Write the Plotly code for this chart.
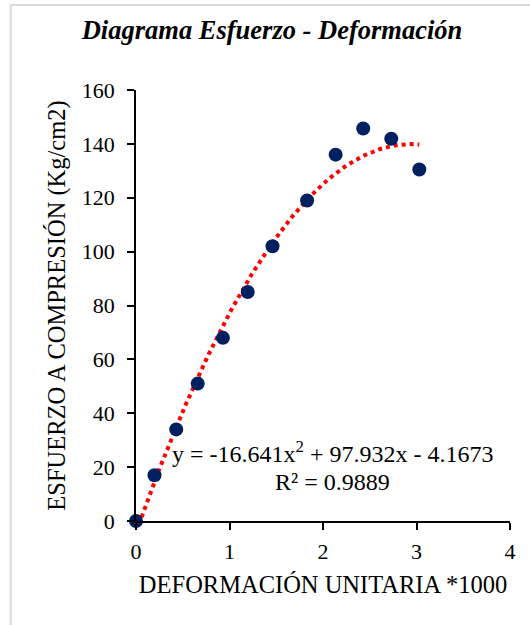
import numpy as np
import plotly.graph_objects as go

# Ensayo de compresión: deformación unitaria (*1000) y esfuerzo (kg/cm2)
deformacion = [0.0, 0.198, 0.43, 0.66, 0.93, 1.195, 1.46, 1.83, 2.135, 2.43, 2.73, 3.03]
esfuerzo = [0, 17, 34, 51, 68, 85, 102, 119, 136, 145.7, 141.9, 130.5]

# Línea de tendencia polinómica de orden 2: a*x^2 + b*x + c
coef_tendencia = [-16.641, 97.932, -4.1673]
r_cuadrado = 0.9889

x_ticks = [0, 1, 2, 3, 4]
y_ticks = [0, 20, 40, 60, 80, 100, 120, 140, 160]

FONT = "Liberation Serif"

a, b, c = coef_tendencia
x_tend = np.linspace(min(deformacion), max(deformacion), 200)
y_tend = a * x_tend**2 + b * x_tend + c

fig = go.Figure()

fig.add_trace(go.Scatter(
    x=x_tend, y=y_tend, mode="lines",
    line=dict(color="#ff0000", width=4, dash="dot"),
    hoverinfo="skip", showlegend=False,
))

fig.add_trace(go.Scatter(
    x=deformacion, y=esfuerzo, mode="markers",
    marker=dict(color="#002060", size=14, line=dict(width=0)),
    showlegend=False, cliponaxis=False,
))

ecuacion = f"y = {a:g}x<sup>2</sup> + {b:g}x - {abs(c):g}"
fig.add_annotation(x=2.1, y=25.5, xref="x", yref="y", text=ecuacion,
                   showarrow=False, font=dict(family=FONT, size=24, color="#000000"))
fig.add_annotation(x=2.1, y=14.5, xref="x", yref="y", text=f"R² = {r_cuadrado}",
                   showarrow=False, font=dict(family=FONT, size=24, color="#000000"))

# Marco del área del gráfico
fig.add_shape(type="rect", xref="paper", yref="paper",
              x0=(10 - 135.5) / 374.5, x1=(540 - 135.5) / 374.5,
              y0=(521 - 640) / 431, y1=(521 - 5) / 431,
              line=dict(color="#d9d9d9", width=2), layer="below")

fig.update_layout(
    width=530, height=625,
    margin=dict(l=135.5, r=20, t=90, b=104),
    paper_bgcolor="white", plot_bgcolor="white",
    font=dict(family=FONT, color="#000000"),
    title=dict(text="<b><i>Diagrama Esfuerzo - Deformación</i></b>",
               x=272 / 530, xanchor="center", y=1 - 30 / 625, yanchor="middle",
               font=dict(family=FONT, size=26.5, color="#000000")),
    xaxis=dict(range=[0, 4], tickvals=x_ticks, showgrid=False, zeroline=False,
               showline=True, linecolor="#000000", linewidth=1.5,
               ticks="outside", ticklen=7, tickwidth=1.5, tickcolor="#000000",
               tickfont=dict(family=FONT, size=22), ticklabelstandoff=3,
               title=dict(text="DEFORMACIÓN UNITARIA *1000",
                          font=dict(family=FONT, size=24.5), standoff=13)),
    yaxis=dict(range=[0, 160], tickvals=y_ticks, showgrid=False, zeroline=False,
               showline=True, linecolor="#000000", linewidth=1.5,
               ticks="outside", ticklen=7, tickwidth=1.5, tickcolor="#000000",
               tickfont=dict(family=FONT, size=22), ticklabelstandoff=8,
               title=dict(text="ESFUERZO A COMPRESIÓN (Kg/cm2)",
                          font=dict(family=FONT, size=24.5), standoff=9)),
)

fig.write_html("out.html")
